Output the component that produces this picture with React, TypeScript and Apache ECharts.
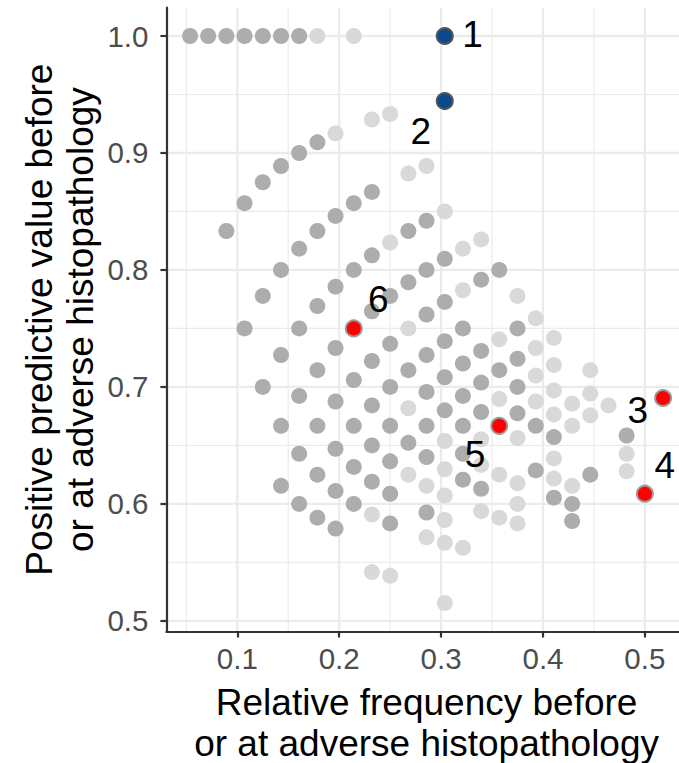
import React, { useEffect, useRef } from "react";
import * as echarts from "echarts";

// Tick values
const xTickValues = [0.1, 0.2, 0.3, 0.4, 0.5];
const xMinorValues = [0.05, 0.15, 0.25, 0.35, 0.45];
const yTickValues = [0.5, 0.6, 0.7, 0.8, 0.9, 1.0];
const yMinorValues = [0.55, 0.65, 0.75, 0.85, 0.95];

// Darker grey points
const darkX = [
  0.0536, 0.0714, 0.0893, 0.1071, 0.125, 0.1429, 0.1607,
  0.0893, 0.1071, 0.125, 0.1429, 0.1607, 0.1786,
  0.1071, 0.125, 0.1429, 0.1607, 0.1786, 0.1964, 0.2143, 0.2321,
  0.125, 0.1429, 0.1607, 0.1786, 0.1964, 0.2143, 0.2321, 0.2679, 0.2857,
  0.1429, 0.1607, 0.1786, 0.1964, 0.2321, 0.25, 0.2679, 0.2857, 0.3036,
  0.1429, 0.1607, 0.1786, 0.1964, 0.2143, 0.2321, 0.25, 0.2857, 0.3036, 0.3393, 0.3571,
  0.1607, 0.1786, 0.1964, 0.2143, 0.2321, 0.25, 0.2679, 0.2857, 0.3036, 0.3214,
  0.1786, 0.1964, 0.2143, 0.2321, 0.25, 0.2857, 0.3036, 0.3214, 0.3393, 0.375,
  0.1964, 0.2143, 0.2321, 0.25, 0.2679, 0.2857, 0.3036, 0.3214, 0.3393, 0.3571, 0.375,
  0.25, 0.2857, 0.3214, 0.3393, 0.375,
  0.25, 0.3214, 0.375,
  0.2857, 0.3214, 0.3929,
  0.3393, 0.4107,
  0.3929,
  0.4821,
  0.4107, 0.4464,
  0.4286,
  0.4286,
];
const darkY = [
  1, 1, 1, 1, 1, 1, 1,
  0.8333, 0.8571, 0.875, 0.8889, 0.9, 0.9091,
  0.75, 0.7778, 0.8, 0.8182, 0.8333, 0.8462, 0.8571, 0.8667,
  0.7, 0.7273, 0.75, 0.7692, 0.7857, 0.8, 0.8125, 0.8333, 0.8421,
  0.6667, 0.6923, 0.7143, 0.7333, 0.7647, 0.7778, 0.7895, 0.8, 0.8095,
  0.6154, 0.6429, 0.6667, 0.6875, 0.7059, 0.7222, 0.7368, 0.7619, 0.7727, 0.7917, 0.8,
  0.6, 0.625, 0.6471, 0.6667, 0.6842, 0.7, 0.7143, 0.7273, 0.7391, 0.75,
  0.5882, 0.6111, 0.6316, 0.65, 0.6667, 0.6957, 0.7083, 0.72, 0.7308, 0.75,
  0.5789, 0.6, 0.619, 0.6364, 0.6522, 0.6667, 0.68, 0.6923, 0.7037, 0.7143, 0.7241,
  0.6087, 0.64, 0.6667, 0.6786, 0.7,
  0.5833, 0.6429, 0.6774,
  0.5926, 0.6207, 0.6667,
  0.6129, 0.6571,
  0.6286,
  0.6585,
  0.6053, 0.625,
  0.6,
  0.5854,
];

// Lighter grey points
const lightX = [
  0.1786, 0.2143,
  0.1964, 0.2321, 0.25,
  0.2679, 0.2857,
  0.25, 0.3036,
  0.3214, 0.3393,
  0.2679, 0.3214,
  0.375,
  0.2679, 0.3571, 0.3929,
  0.3929, 0.4107,
  0.2321, 0.2679, 0.3036, 0.3571, 0.3929, 0.4107,
  0.2857, 0.3036, 0.3393, 0.3929, 0.4107, 0.4464,
  0.2321, 0.3036, 0.3393, 0.375, 0.4107, 0.4286, 0.4464,
  0.25, 0.2857, 0.3036, 0.3571, 0.4286, 0.4464, 0.4643,
  0.3036, 0.3393, 0.375, 0.4107,
  0.3214, 0.3571, 0.375, 0.4107,
  0.375, 0.4286, 0.4821,
  0.3036, 0.4821,
];
const lightY = [
  1, 1,
  0.9167, 0.9286, 0.9333,
  0.8824, 0.8889,
  0.8235, 0.85,
  0.8182, 0.8261,
  0.75, 0.7826,
  0.7778,
  0.6818, 0.7407, 0.7586,
  0.7333, 0.7419,
  0.5909, 0.625, 0.6538, 0.6897, 0.7097, 0.7188,
  0.6154, 0.6296, 0.6552, 0.6875, 0.697, 0.7143,
  0.5417, 0.6071, 0.6333, 0.6563, 0.6765, 0.6857, 0.6944,
  0.5385, 0.5714, 0.5862, 0.625, 0.6667, 0.6757, 0.6842,
  0.5667, 0.5938, 0.6176, 0.6389,
  0.5625, 0.5882, 0.6, 0.6216,
  0.5833, 0.6154, 0.6429,
  0.5152, 0.6279,
];

// Highlighted points
const blueX = [0.3036, 0.3036];
const blueY = [1.0, 0.9444];
const redX = [0.5179, 0.5, 0.3571, 0.2143];
const redY = [0.6905, 0.6087, 0.6667, 0.75];

// Annotation labels
const labelText = ["1", "2", "3", "4", "5", "6"];
const labelX = [0.3308, 0.2801, 0.493, 0.5196, 0.3332, 0.2383];
const labelY = [1.0013, 0.918, 0.6795, 0.6325, 0.6419, 0.7744];

const X_MIN = 0.0304;
const X_MAX = 0.5335;
const Y_MIN = 0.4909;
const Y_MAX = 1.0242;

const FONT = "'Liberation Sans', Arial, Helvetica, sans-serif";

const zip = (xs: number[], ys: number[]) => xs.map((x, i) => [x, ys[i]]);

export default function App() {
  const ref = useRef<HTMLDivElement>(null);

  useEffect(() => {
    if (!ref.current) return;
    const chart = echarts.init(ref.current, null, { renderer: "svg" });

    const gridData: number[][] = [
      ...xTickValues.map((v) => [v, 0, 1]),
      ...xMinorValues.map((v) => [v, 0, 0]),
      ...yTickValues.map((v) => [v, 1, 1]),
      ...yMinorValues.map((v) => [v, 1, 0]),
    ];

    const option: any = {
      animation: false,
      backgroundColor: "#ffffff",
      grid: { left: 166.4, right: 0, top: 7.7, bottom: 131.5, containLabel: false },
      xAxis: {
        type: "value",
        min: X_MIN,
        max: X_MAX,
        axisLine: { show: true, onZero: false, lineStyle: { color: "#333333", width: 2.2 } },
        axisTick: { show: true, length: 6, customValues: xTickValues, lineStyle: { color: "#333333", width: 2.2 } },
        axisLabel: {
          show: true,
          customValues: xTickValues,
          formatter: (v: number) => v.toFixed(1),
          color: "#4d4d4d",
          fontSize: 29.5,
          fontFamily: FONT,
          margin: 12,
        },
        splitLine: { show: false },
      },
      yAxis: {
        type: "value",
        min: Y_MIN,
        max: Y_MAX,
        axisLine: { show: true, onZero: false, lineStyle: { color: "#333333", width: 2.2 } },
        axisTick: { show: true, length: 6, customValues: yTickValues, lineStyle: { color: "#333333", width: 2.2 } },
        axisLabel: {
          show: true,
          customValues: yTickValues,
          formatter: (v: number) => v.toFixed(1),
          color: "#4d4d4d",
          fontSize: 29.5,
          fontFamily: FONT,
          margin: 18,
        },
        splitLine: { show: false },
      },
      graphic: [
        {
          type: "text",
          x: 426.6,
          y: 722.5,
          style: {
            text: "Relative frequency before\nor at adverse histopathology",
            fill: "#000000",
            fontSize: 37,
            fontFamily: FONT,
            lineHeight: 41,
            align: "center",
            verticalAlign: "middle",
          },
        },
        {
          type: "text",
          x: 60,
          y: 319.6,
          rotation: Math.PI / 2,
          style: {
            text: "Positive predictive value before\nor at adverse histopathology",
            fill: "#000000",
            fontSize: 37,
            fontFamily: FONT,
            lineHeight: 41,
            align: "center",
            verticalAlign: "middle",
          },
        },
      ],
      series: [
        {
          type: "custom",
          silent: true,
          z: 0,
          clip: false,
          data: gridData,
          renderItem: (params: any, api: any) => {
            const v = api.value(0);
            const dim = api.value(1);
            const major = api.value(2);
            let p1, p2;
            if (dim === 0) {
              p1 = api.coord([v, Y_MIN]);
              p2 = api.coord([v, Y_MAX]);
            } else {
              p1 = api.coord([X_MIN, v]);
              p2 = api.coord([X_MAX, v]);
            }
            return {
              type: "line",
              shape: { x1: p1[0], y1: p1[1], x2: p2[0], y2: p2[1] },
              style: { stroke: "#ebebeb", lineWidth: major ? 2.3 : 1.2 },
            };
          },
        },
        {
          type: "scatter",
          z: 2,
          silent: true,
          symbolSize: 16,
          itemStyle: { color: "#d9d9d9", opacity: 1 },
          data: zip(lightX, lightY),
        },
        {
          type: "scatter",
          z: 3,
          silent: true,
          symbolSize: 16,
          itemStyle: { color: "#adadad", opacity: 1 },
          data: zip(darkX, darkY),
        },
        {
          type: "scatter",
          z: 4,
          silent: true,
          symbolSize: 16,
          itemStyle: { color: "#ff0000", borderColor: "#9a9a9a", borderWidth: 2, opacity: 1 },
          data: zip(redX, redY),
        },
        {
          type: "scatter",
          z: 4,
          silent: true,
          symbolSize: 16,
          itemStyle: { color: "#0a4a8c", borderColor: "#555555", borderWidth: 2, opacity: 1 },
          data: zip(blueX, blueY),
        },
        {
          type: "scatter",
          z: 5,
          silent: true,
          symbolSize: 0,
          itemStyle: { opacity: 1 },
          data: labelX.map((x, i) => ({ value: [x, labelY[i]], name: labelText[i] })),
          label: {
            show: true,
            position: "inside",
            formatter: (p: any) => p.name,
            color: "#000000",
            opacity: 1,
            fontSize: 37,
            fontFamily: FONT,
          },
        },
      ],
    };

    chart.setOption(option);
    return () => chart.dispose();
  }, []);

  return (
    <div
      ref={ref}
      style={{ position: "absolute", left: 0, top: 0, width: 679, height: 763 }}
    />
  );
}
